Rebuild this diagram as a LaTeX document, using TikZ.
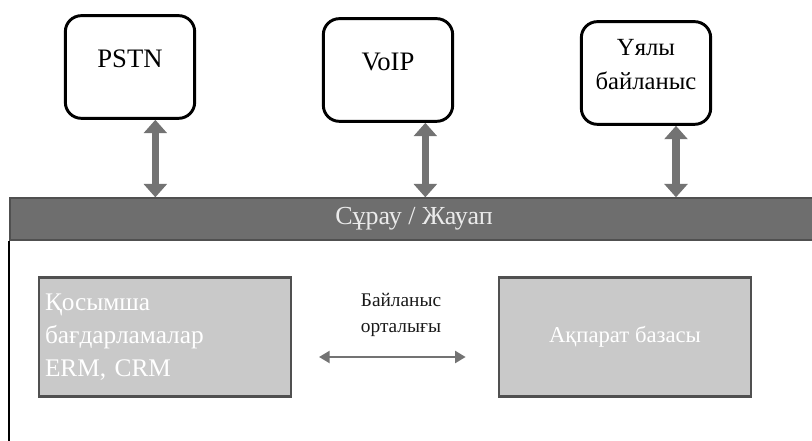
\documentclass[tikz,border=0pt]{standalone}
\usepackage{fontspec}
\setmainfont{Liberation Serif}
\usetikzlibrary{arrows.meta}
\usetikzlibrary{calc}

\definecolor{bargrey}{HTML}{6E6E6E}
\definecolor{boxgrey}{HTML}{C9C9C9}
\definecolor{edgegrey}{HTML}{505050}
\definecolor{arrgrey}{HTML}{737373}

\tikzset{
	net/.style={draw=black, line width=2.2pt, rounded corners=12pt, fill=white,
		minimum width=97pt, minimum height=77pt, align=center, text depth=13pt,
		font=\fontsize{20}{25}\selectfont},
	block/.style={draw=edgegrey, line width=2pt, fill=boxgrey, text=white,
		minimum width=189pt, minimum height=89pt},
	bigarrow/.style={draw=arrgrey, line width=5.5pt, {Triangle[length=10pt,width=17pt]}-{Triangle[length=10pt,width=17pt]}},
	thinarrow/.style={draw=arrgrey, line width=1.8pt, {Triangle[length=8pt,width=9pt]}-{Triangle[length=8pt,width=9pt]}}
}

\begin{document}
\begin{tikzpicture}[x=0.75pt, y=-0.75pt]

	\useasboundingbox (0,0) rectangle (812,441);

	% upper networks
	\node[net] (pstn) at (130,67) {PSTN};
	\node[net] (voip) at (388,70) {VoIP};
	\node[net, font=\fontsize{18.5}{25}\selectfont] (mobile) at (646,73) {Үялы\\байланыс};

	% request / response bar
	\node[draw=edgegrey, line width=1.5pt, fill=bargrey, text=white!92!black,
		minimum width=606pt, minimum height=31pt, inner sep=0pt,
		font=\fontsize{19.5}{22}\selectfont] (bar) at (414,219) {Сұрау / Жауап};

	\draw[black, line width=1.6pt] (bar.south west) -- ++(0,205);

	% lower blocks
	\node[block, align=left, text width=180pt, font=\fontsize{19}{25}\selectfont] (app) at (165,337)
		{Қосымша\\бағдарламалар\\ERM, CRM};
	\node[block, font=\fontsize{17}{20}\selectfont] (db) at (625,337) {Ақпарат базасы};

	\node[align=center, text=black!90, font=\fontsize{14.5}{19}\selectfont] (centre) at (401,315)
		{Байланыс\\орталығы};

	% connectors
	\draw[bigarrow] ([xshift=19]pstn.south) -- ([xshift=19]pstn.south |- bar.north);
	\draw[bigarrow] ([xshift=28]voip.south) -- ([xshift=28]voip.south |- bar.north);
	\draw[bigarrow] ([xshift=22.5]mobile.south) -- ([xshift=22.5]mobile.south |- bar.north);

	\draw[thinarrow] ([xshift=20]app.east |- 0,357) -- ([xshift=-24]db.west |- 0,357);

\end{tikzpicture}
\end{document}
